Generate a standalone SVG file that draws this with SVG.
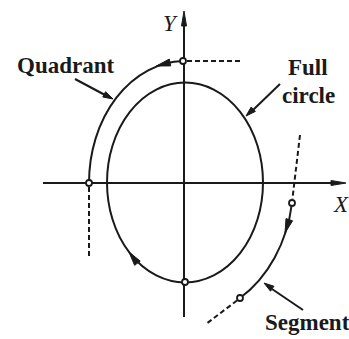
<svg xmlns="http://www.w3.org/2000/svg" width="349" height="339" viewBox="0 0 349 339">
<style>
.ln{fill:none;stroke:#1a1a1a;stroke-width:2}
.ds{fill:none;stroke:#1a1a1a;stroke-width:2;stroke-dasharray:5 3}
.ah{fill:#1a1a1a;stroke:#1a1a1a;stroke-width:1;stroke-linejoin:round}
.nd{fill:#fff;stroke:#1a1a1a;stroke-width:1.8}
.lb{font-family:"Liberation Serif","DejaVu Serif",serif;font-weight:bold;font-size:23px;fill:#1a1a1a}
.ax{font-family:"Liberation Serif","DejaVu Serif",serif;font-style:italic;font-size:23px;fill:#1a1a1a}
</style>
<rect width="349" height="339" fill="#fff"/>
<g id="axes">
<line class="ln" x1="184" y1="20" x2="184" y2="317"/>
<polygon class="ah" points="184,11 186.5,26 181.5,26"/>
<line class="ln" x1="43" y1="183" x2="336" y2="183"/>
<polygon class="ah" points="346,183 331,185.5 331,180.5"/>
<text class="ax" x="163" y="31">Y</text>
<text class="ax" x="334" y="212">X</text>
</g>
<g id="full-circle">
<ellipse class="ln" cx="185" cy="182.5" rx="78" ry="100"/>
<polygon class="ah" points="129,252 140.2,261.1 134.6,265.3"/>
<circle class="nd" cx="185" cy="282" r="3"/>
<text class="lb" x="288" y="75">Full</text>
<text class="lb" x="282" y="103">circle</text>
</g>
<g id="quadrant">
<path class="ln" d="M89 183 A96 122 0 0 1 183 61"/>
<polygon class="ah" points="156.3,66 170.7,65.9 169.3,59.1"/>
<circle class="nd" cx="89" cy="183" r="3"/>
<circle class="nd" cx="183" cy="61" r="3"/>
<text class="lb" x="17" y="73">Quadrant</text>
</g>
<g id="segment">
<path class="ln" d="M292 203 A108 134 0 0 1 240 298"/>
<polygon class="ah" points="285,233 292.6,220.8 286,218.6"/>
<circle class="nd" cx="292" cy="203" r="3"/>
<circle class="nd" cx="240" cy="298" r="3"/>
<text class="lb" x="265" y="330">Segment</text>
</g>
<g id="connectors">
<line class="ds" x1="187" y1="61" x2="242" y2="61"/>
<line class="ds" x1="89" y1="187" x2="89" y2="258"/>
<line class="ds" x1="300" y1="135" x2="292.4" y2="199"/>
<line class="ds" x1="237" y1="300.5" x2="206" y2="324"/>
<line class="ln" stroke-width="1.6" x1="75" y1="79" x2="105" y2="95"/>
<polygon class="ah" points="113,99 102.8,97 105.6,91.7"/>
<line class="ln" stroke-width="1.6" x1="280" y1="84" x2="253" y2="110"/>
<polygon class="ah" points="246,116 255.4,111.4 251.2,107"/>
<line class="ln" stroke-width="1.6" x1="303" y1="310" x2="272" y2="289"/>
<polygon class="ah" points="264,283 273.9,286.2 270.5,291.2"/>
</g>
</svg>
